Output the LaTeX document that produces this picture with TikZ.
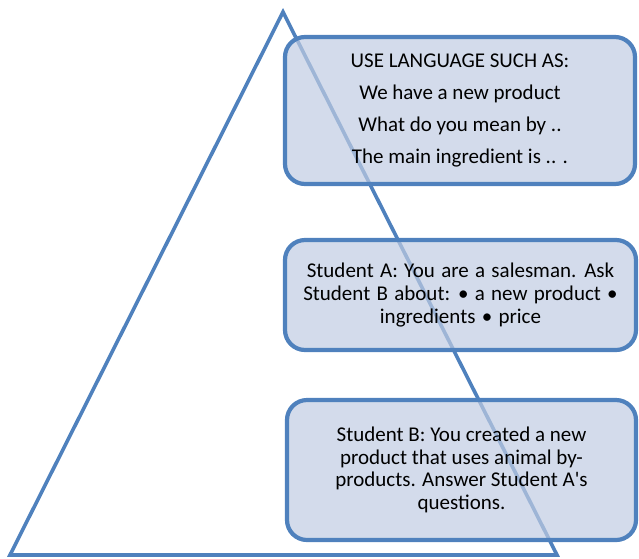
\documentclass[tikz,border=0pt]{standalone}
\usepackage{fontspec}
\setmainfont{Carlito}
\definecolor{edge}{RGB}{79,129,189}
\definecolor{boxfill}{RGB}{192,204,226}
\newcommand\widespacing{\spaceskip=0.3em plus 0.1em\relax}
\begin{document}
\begin{tikzpicture}[x=1pt,y=-1pt,
  tbox/.style={draw=edge, line width=4.2pt, rounded corners=20pt, fill=boxfill,
    fill opacity=0.7, text opacity=1, text=black, align=center, inner sep=0pt,
    font=\fontsize{21}{22.7}\selectfont}]
\useasboundingbox (0,0) rectangle (639,558);
\coordinate (apex) at (283,12);
\coordinate (bl) at (10,555);
\coordinate (br) at (557,555);
\draw[edge, line width=3.6pt, line join=miter] (bl) -- (apex) -- (br) -- cycle;
\node[tbox, minimum width=350pt, minimum height=147pt,
  font=\fontsize{21}{32}\selectfont] (lang) at (460,110.5)
  {USE LANGUAGE SUCH AS:\\We have a new product\\What do you mean by ..\\The main ingredient is .. .};
\node[tbox, minimum width=351pt, minimum height=110pt,
  font=\fontsize{21}{22.7}\selectfont\widespacing] (stA) at (460.5,295)
  {Student A: You are a salesman. Ask\\Student B about: \textbullet{} a new product \textbullet\\ingredients \textbullet{} price};
\node[tbox, minimum width=349pt, minimum height=140pt] (stB) at (461.5,470)
  {Student B: You created a new\\product that uses animal by-\\products. Answer Student A\textquotesingle s\\questions.};
\end{tikzpicture}
\end{document}
